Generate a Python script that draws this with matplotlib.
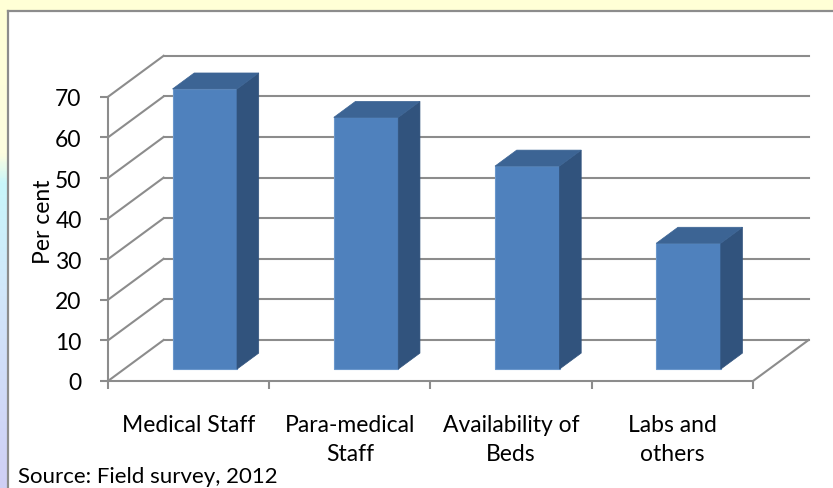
import numpy as np
import matplotlib
matplotlib.use("Agg")
from matplotlib import pyplot as plt
from matplotlib.patches import Polygon, Rectangle
from matplotlib.colors import LinearSegmentedColormap

plt.rcParams['font.family'] = ['Lato', 'DejaVu Sans']

categories = ['Medical Staff', 'Para-medical\nStaff', 'Availability of\nBeds', 'Labs and\nothers']
values = [69, 62, 50, 31]
yticks = [0, 10, 20, 30, 40, 50, 60, 70]
source = 'Source: Field survey, 2012'

# 3d look: depth offset of the back wall in data units
DX, DY = 0.345, 10.1
BAR_W = 0.4
D0, D1 = 0.29, 0.68   # front / back depth of the bars

grid_col = '#8c8c8c'
front_col = '#4f81bd'
top_col = '#3c6494'
side_col = '#31537d'
FS = 16.5


def proj(x, v, d):
    return x + d * DX, v + d * DY


W, H = 833, 489
fig = plt.figure(figsize=(W / 100, H / 100), dpi=100)
fig.patch.set_facecolor('white')

# yellow frame around the chart area, gradient strip on the left
fig.patches.append(Rectangle((0, 1 - 12 / H), 1, 12 / H, transform=fig.transFigure,
                             facecolor='#ffffd6', edgecolor='none', zorder=0))
strip = fig.add_axes([0, 0, 8 / W, 1 - 12 / H])
cmap = LinearSegmentedColormap.from_list('strip', [(0.0, '#ffffd6'), (0.30, '#fdfde0'),
                                                   (0.36, '#c8f6fa'), (0.6, '#d2e6fa'),
                                                   (1.0, '#cfcff5')])
strip.imshow(np.linspace(0, 1, 200)[:, None], aspect='auto', cmap=cmap)
strip.set_axis_off()
fig.add_artist(plt.Line2D([8 / W, 8 / W], [0, 1 - 12 / H], color=grid_col, lw=1.6))
fig.add_artist(plt.Line2D([8 / W, 1], [1 - 12 / H, 1 - 12 / H], color=grid_col, lw=1.6))

ax = fig.add_axes([108 / W, (H - 382) / H, (753 - 108) / W, (382 - 97.8) / H])
ax.set_xlim(0, len(categories))
ax.set_ylim(0, 70)
ax.patch.set_alpha(0)

# back wall + side wall gridlines
for v in yticks:
    x0, y0 = proj(0, v, 1)
    x1, y1 = proj(len(categories), v, 1)
    ax.plot([x0, x1], [y0, y1], color=grid_col, lw=1.5, clip_on=False, zorder=1)
    ax.plot([0, x0], [v, y0], color=grid_col, lw=1.5, clip_on=False, zorder=1)
# floor right edge
xr, yr = proj(len(categories), 0, 1)
ax.plot([len(categories), xr], [0, yr], color=grid_col, lw=1.5, clip_on=False, zorder=1)

# bars
for i, v in enumerate(values):
    l, r = i + 0.5 - BAR_W / 2, i + 0.5 + BAR_W / 2
    front = [proj(l, 0, D0), proj(r, 0, D0), proj(r, v, D0), proj(l, v, D0)]
    side = [proj(r, 0, D0), proj(r, 0, D1), proj(r, v, D1), proj(r, v, D0)]
    top = [proj(l, v, D0), proj(r, v, D0), proj(r, v, D1), proj(l, v, D1)]
    ax.add_patch(Polygon(front, closed=True, facecolor=front_col, edgecolor='#6a97cc',
                         lw=0.8, clip_on=False, zorder=3))
    ax.add_patch(Polygon(side, closed=True, facecolor=side_col, edgecolor=side_col,
                         lw=0.5, clip_on=False, zorder=3))
    ax.add_patch(Polygon(top, closed=True, facecolor=top_col, edgecolor=top_col,
                         lw=0.5, clip_on=False, zorder=3))

for s in ['top', 'right']:
    ax.spines[s].set_visible(False)
for s in ['left', 'bottom']:
    ax.spines[s].set_color(grid_col)
    ax.spines[s].set_linewidth(1.5)
    ax.spines[s].set_zorder(2)

ax.set_yticks(yticks)
ax.tick_params(axis='y', direction='out', length=6, width=1.5, color=grid_col,
               labelsize=FS, pad=13)
ax.set_xticks(range(len(categories) + 1))
ax.set_xticklabels([])
ax.tick_params(axis='x', which='major', direction='out', length=5.5, width=1.5, color=grid_col)
ax.set_xticks(np.arange(len(categories)) + 0.5, minor=True)
ax.set_xticklabels(categories, minor=True, fontsize=FS, linespacing=1.45)
ax.tick_params(axis='x', which='minor', length=0, pad=24)

ax.set_ylabel('Per cent', fontsize=FS)
ax.yaxis.set_label_coords(-0.083, 0.563)

fig.text(18 / W, (H - 483) / H, source, fontsize=FS - 0.5, va='baseline', ha='left')

fig.savefig('out.png', dpi=100)
